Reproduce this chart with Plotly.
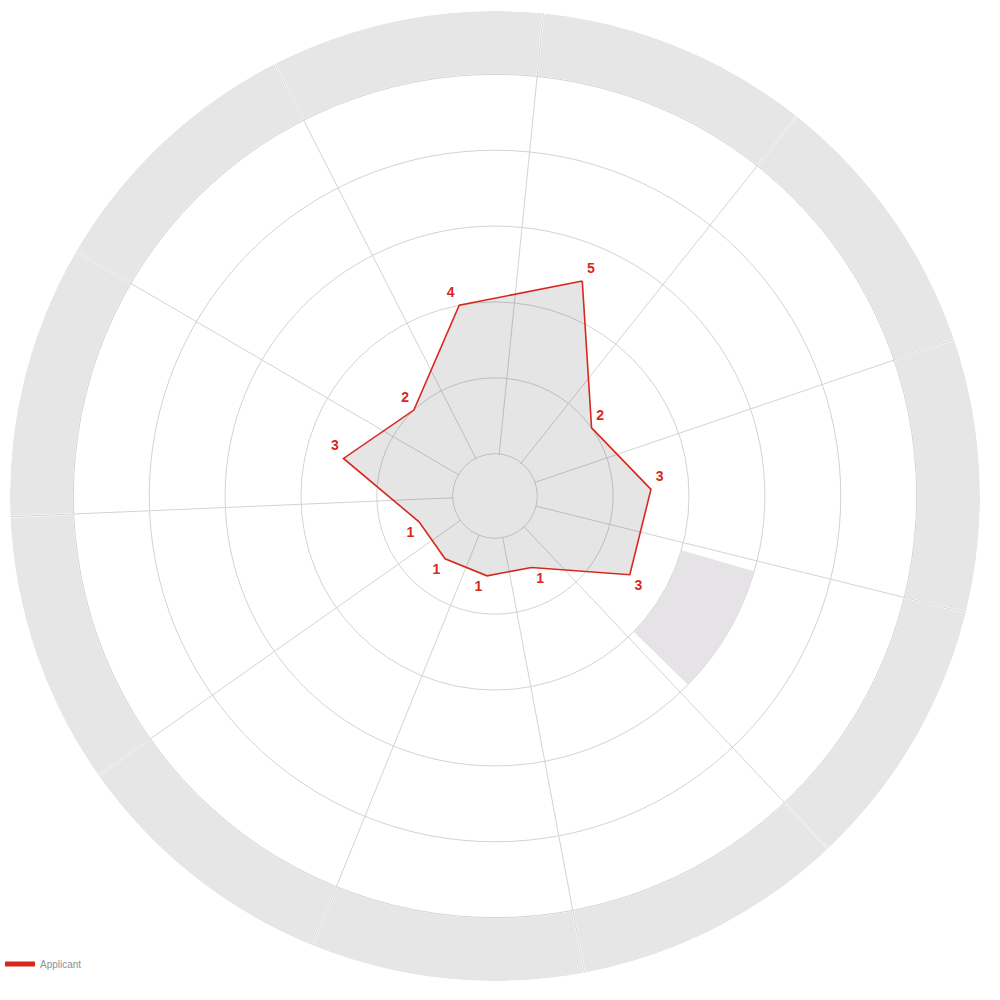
import plotly.graph_objects as go

# ---- data ----
category_count = 11
applicant_scores = [5, 2, 3, 3, 1, 1, 1, 1, 3, 2, 4]
series_name = "Applicant"
grid_values = [0, 2, 4, 6, 8, 10]
band_low = 10
band_high = 11.67
highlight_index = 3
highlight_low = 4
highlight_high = 6
radial_min = -1.115  # empty centre (hole) of the radar

# ---- styling ----
RED = "#d8281d"
GRID = "#d3d3d3"
BAND = "#e6e6e6"
START_DEG = 22.1  # clockwise from top, first category

step = 360 / category_count
theta = [i * step for i in range(category_count)]
spokes = [t + step / 2 for t in theta]


def text_pos(t):
    a = (t + START_DEG) % 360
    v = "top" if (a < 90 or a > 270) else "bottom"
    h = "right" if a < 180 else "left"
    return f"{v} {h}"


fig = go.Figure()

# outer segmented band
fig.add_trace(go.Barpolar(
    r=[band_high - band_low - 0.015] * category_count,
    base=[band_low + 0.015] * category_count,
    theta=theta,
    width=[step - 0.25] * category_count,
    marker=dict(color=BAND, line=dict(width=0)),
    showlegend=False, hoverinfo="skip",
))

# empty centre disc (hides spokes inside the hole)
fig.add_trace(go.Barpolar(
    r=[-radial_min - 0.02], base=[radial_min], theta=[0], width=[360],
    marker=dict(color="white", line=dict(width=0)),
    showlegend=False, hoverinfo="skip",
))

# highlighted range
fig.add_trace(go.Barpolar(
    r=[highlight_high - highlight_low],
    base=[highlight_low],
    theta=[theta[highlight_index]],
    width=[step * 0.86],
    marker=dict(color="#e5e3e5", line=dict(width=0)),
    showlegend=False, hoverinfo="skip",
))

# applicant polygon
r_closed = applicant_scores + [applicant_scores[0]]
t_closed = theta + [theta[0]]
texts = [f"<b>{v}</b>" for v in applicant_scores] + [""]
positions = [text_pos(t) for t in theta] + ["top right"]
fig.add_trace(go.Scatterpolar(
    r=r_closed, theta=t_closed,
    mode="lines+markers+text",
    fill="toself", fillcolor="rgba(0,0,0,0.10)",
    line=dict(color=RED, width=1.6),
    marker=dict(size=6, color="rgba(0,0,0,0)"),
    text=texts, textposition=positions,
    textfont=dict(color=RED, size=14, family="Liberation Sans, Arial, sans-serif"),
    showlegend=False,
))

# legend entry
fig.add_trace(go.Scatterpolar(
    r=[None], theta=[None], mode="lines",
    line=dict(color=RED, width=5),
    name=series_name, showlegend=True,
))

fig.update_layout(
    width=1000, height=1000,
    margin=dict(l=10, r=20, t=11, b=19, autoexpand=False),
    paper_bgcolor="white",
    font=dict(family="Liberation Sans, Arial, sans-serif"),
    polar=dict(
        domain=dict(x=[0, 1], y=[0, 1]),
        hole=0,
        bgcolor="white",
        barmode="overlay",
        radialaxis=dict(range=[radial_min, band_high], tickvals=grid_values,
                        showticklabels=False, ticks="", showline=False,
                        gridcolor=GRID, gridwidth=1),
        angularaxis=dict(rotation=90 - START_DEG, direction="clockwise",
                         thetaunit="degrees", tickvals=spokes,
                         showticklabels=False, ticks="", showline=False,
                         gridcolor=GRID, gridwidth=1),
    ),
    showlegend=True,
    legend=dict(xref="container", yref="container", x=0.0, y=0.036,
                xanchor="left", yanchor="middle",
                font=dict(size=10, color="#8b9099"),
                bgcolor="rgba(0,0,0,0)", borderwidth=0),
)

fig.write_html("out.html")
